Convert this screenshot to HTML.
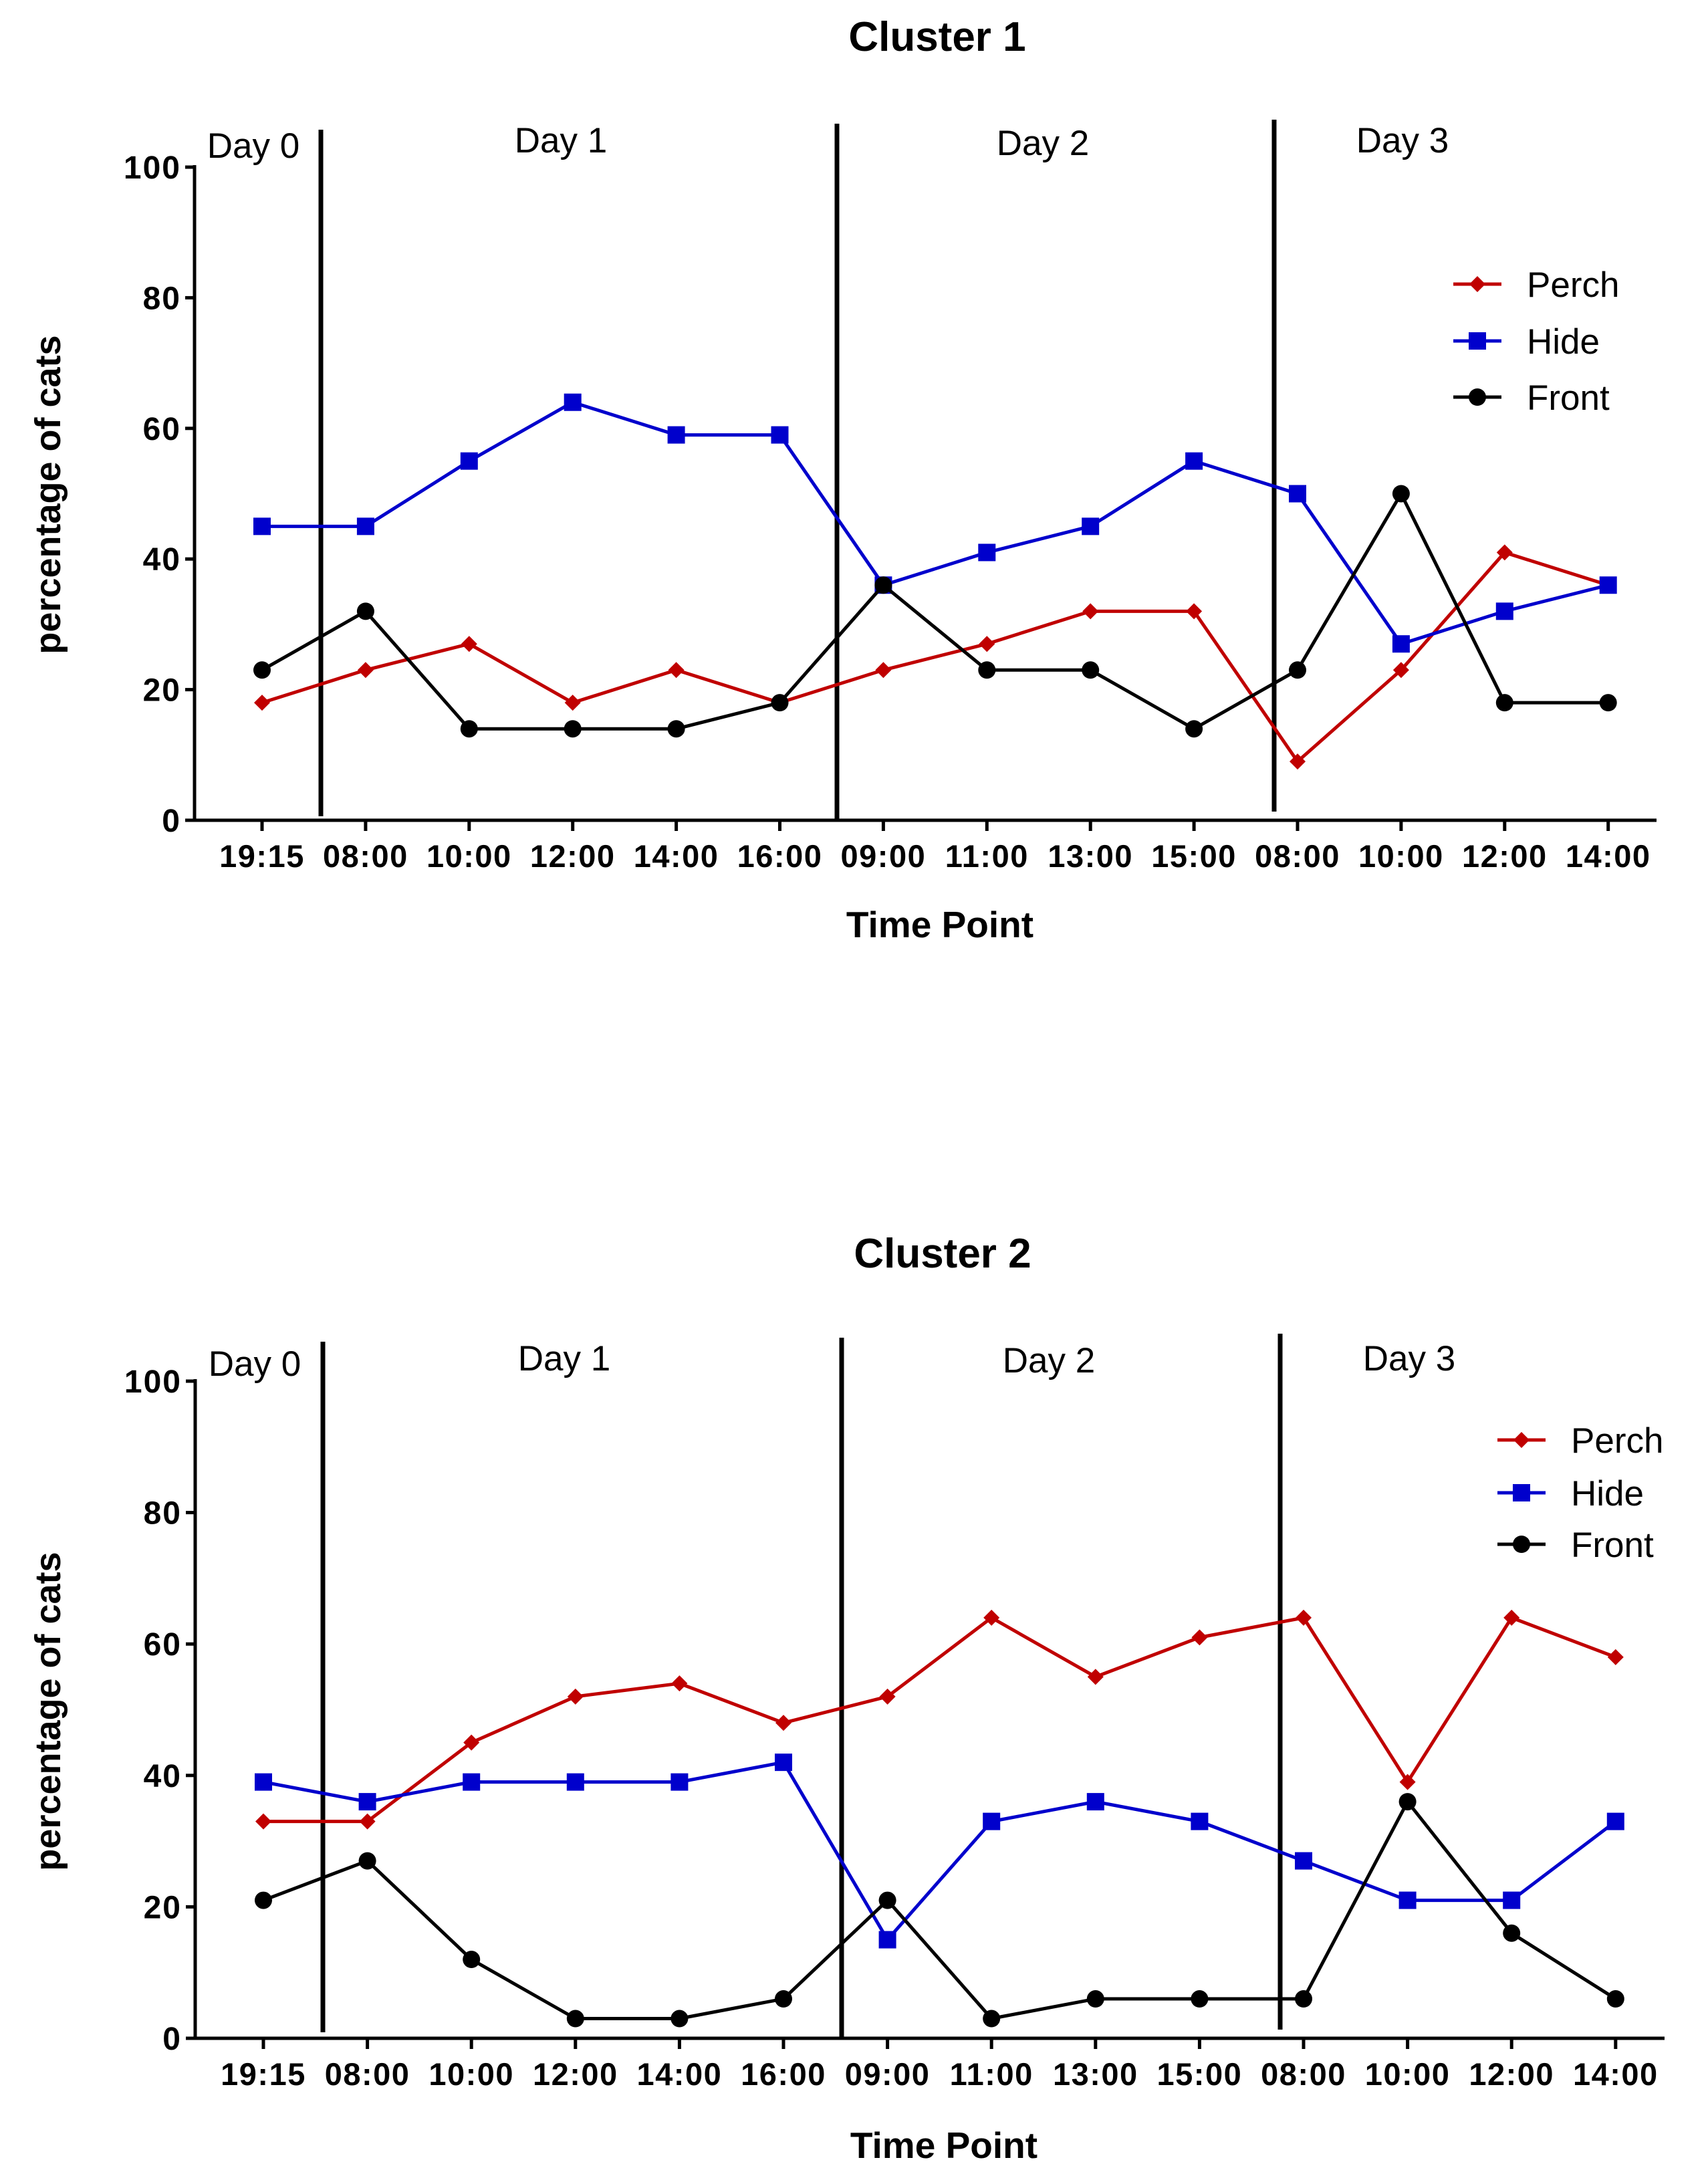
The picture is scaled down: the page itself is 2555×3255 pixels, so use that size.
<!DOCTYPE html>
<html><head><meta charset="utf-8">
<style>
html,body{margin:0;padding:0;background:#fff;}
svg{display:block;font-family:"Liberation Sans",Arial,sans-serif;}
</style></head>
<body>
<svg id="chart" width="2555" height="3255" viewBox="0 0 2555 3255" xmlns="http://www.w3.org/2000/svg"></svg>
<script>
const categories = ["19:15","08:00","10:00","12:00","14:00","16:00","09:00","11:00","13:00","15:00","08:00","10:00","12:00","14:00"];
const yTicks = [0,20,40,60,80,100];
const dayLabels = ["Day 0","Day 1","Day 2","Day 3"];
const seriesNames = ["Perch","Hide","Front"];
const c1Perch = [18,23,27,18,23,18,23,27,32,32,9,23,41,36];
const c1Hide  = [45,45,55,64,59,59,36,41,45,55,50,27,32,36];
const c1Front = [23,32,14,14,14,18,36,23,23,14,23,50,18,18];
const c2Perch = [33,33,45,52,54,48,52,64,55,61,64,39,64,58];
const c2Hide  = [39,36,39,39,39,42,15,33,36,33,27,21,21,33];
const c2Front = [21,27,12,3,3,6,21,3,6,6,6,36,16,6];

const NS = "http://www.w3.org/2000/svg";
const svg = document.getElementById("chart");
function mk(tag, attrs, parent){
  const e = document.createElementNS(NS, tag);
  for (const k in attrs) e.setAttribute(k, attrs[k]);
  (parent||svg).appendChild(e);
  return e;
}
const colors = ["#c00000","#0000cc","#000000"];
const shapes = ["diamond","square","circle"];

function marker(g, shape, x, y, color){
  let m;
  if (shape === "square") m = mk("rect",{x:x-13,y:y-13,width:26,height:26,fill:color},g);
  else if (shape === "circle") m = mk("circle",{cx:x,cy:y,r:13,fill:color},g);
  else m = mk("polygon",{points:`${x},${y-12} ${x+12},${y} ${x},${y+12} ${x-12},${y}`,fill:color},g);
  return m;
}

function drawPanel(cfg, perch, hide, front){
  const p = cfg;
  const xScale = i => p.x0 + i*p.dx;
  const yScale = v => p.y0 - (v/100)*(p.y0 - p.y100);
  const g = mk("g",{});
  
  

  const t = mk("text",{x:p.titleX,y:p.titleY,"text-anchor":"middle","font-size":62,"font-weight":"bold"},g);
  t.textContent = cfg.title;
  
  

  const ya = mk("line",{x1:p.ax,y1:p.y100-3,x2:p.ax,y2:p.y0+2,stroke:"#000","stroke-width":5},g);
  
  
  const xa = mk("line",{x1:p.ax-2,y1:p.y0,x2:p.xEnd,y2:p.y0,stroke:"#000","stroke-width":5},g);
  
  

  yTicks.forEach(v=>{
    const y = yScale(v);
    mk("line",{x1:p.ax-14,y1:y,x2:p.ax,y2:y,stroke:"#000","stroke-width":5},g);
    const tl = mk("text",{x:p.ax-20,y:y+17,"text-anchor":"end","font-size":48,"font-weight":"bold","letter-spacing":2},g);
    tl.textContent = v;
    
    
  });
  categories.forEach((c,i)=>{
    const x = xScale(i);
    mk("line",{x1:x,y1:p.y0,x2:x,y2:p.y0+16,stroke:"#000","stroke-width":5},g);
    const tl = mk("text",{x:x,y:p.y0+70,"text-anchor":"middle","font-size":47,"font-weight":"bold","letter-spacing":1.5},g);
    tl.textContent = c;
    
    
  });
  const xt = mk("text",{x:p.xTitleX,y:p.xTitleY,"text-anchor":"middle","font-size":55,"font-weight":"bold"},g);
  xt.textContent = "Time Point";
  
  
  const yt = mk("text",{x:0,y:0,"text-anchor":"middle","font-size":54,"font-weight":"bold",transform:`translate(${p.yTitleX},${p.yTitleY}) rotate(-90)`},g);
  yt.textContent = "percentage of cats";
  
  

  p.sep.forEach(s=>{
    const l = mk("line",{x1:s[0],y1:s[1],x2:s[0],y2:s[2],stroke:"#000","stroke-width":7},g);
    
    
  });
  dayLabels.forEach((d,i)=>{
    const dl = mk("text",{x:p.dayX[i],y:p.dayY[i],"text-anchor":"middle","font-size":53},g);
    dl.textContent = d;
    
    
  });

  [perch, hide, front].forEach((arr, si)=>{
    const sg = mk("g",{},g);
    
    
    const pts = arr.map((v,i)=>xScale(i)+","+yScale(v)).join(" ");
    const pl = mk("polyline",{points:pts,fill:"none",stroke:colors[si],"stroke-width":5,"stroke-linejoin":"round"},sg);
    
    
    arr.forEach((v,i)=>{
      const m = marker(sg, shapes[si], xScale(i), yScale(v), colors[si]);
      
      
    });
  });

  const lg = mk("g",{},g);
  
  
  seriesNames.forEach((n,si)=>{
    const y = p.legY[si];
    const le = mk("g",{},lg);
    
    
    mk("line",{x1:p.legX,y1:y,x2:p.legX+72,y2:y,stroke:colors[si],"stroke-width":5},le);
    marker(le, shapes[si], p.legX+36, y, colors[si]);
    const tx = mk("text",{x:p.legX+110,y:y+19,"font-size":53},le);
    tx.textContent = n;
  });
}

drawPanel({name:"cluster-1-panel",title:"Cluster 1",titleX:1402,titleY:76,
  ax:291,x0:392,dx:154.9,y0:1227,y100:250,xEnd:2478,
  xTitleX:1406,xTitleY:1402,yTitleX:90,yTitleY:740,
  sep:[[480,194,1221],[1252,185,1227],[1906,179,1214]],
  dayX:[379,839,1560,2098],dayY:[236,228,232,228],
  legX:2174,legY:[425,510,594]}, c1Perch, c1Hide, c1Front);

drawPanel({name:"cluster-2-panel",title:"Cluster 2",titleX:1410,titleY:1896,
  ax:292,x0:394,dx:155.6,y0:3049,y100:2066,xEnd:2490,
  xTitleX:1412,xTitleY:3228,yTitleX:90,yTitleY:2560,
  sep:[[483,2007,3040],[1259,2001,3049],[1915,1995,3036]],
  dayX:[381,844,1569,2108],dayY:[2058,2050,2053,2050],
  legX:2240,legY:[2154,2233,2310]}, c2Perch, c2Hide, c2Front);
</script>
</body></html>
